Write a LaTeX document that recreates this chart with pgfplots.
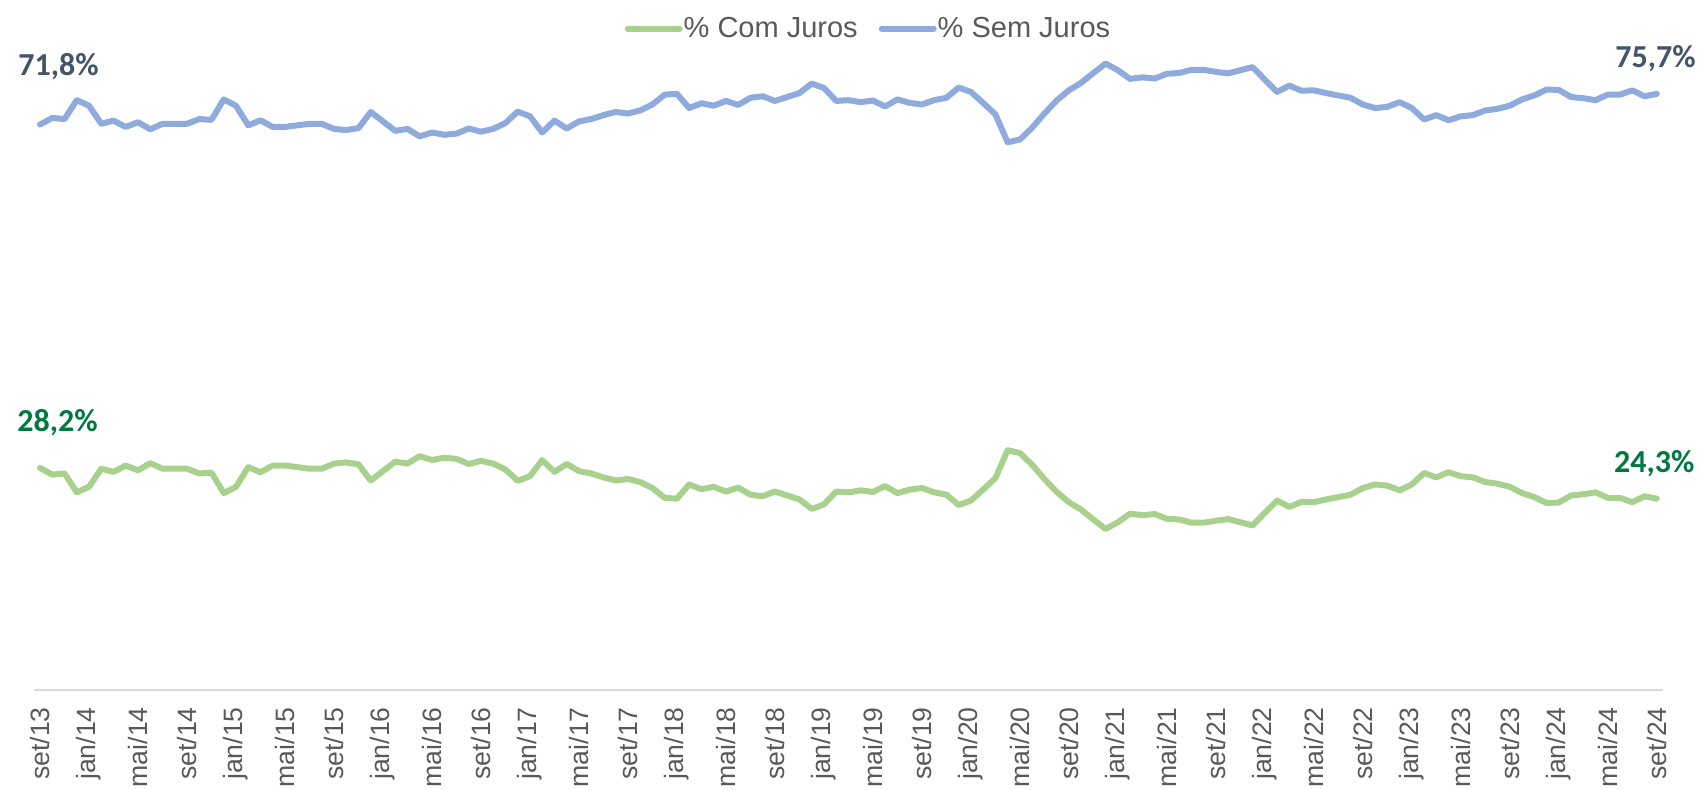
\documentclass[border=0pt]{standalone}
\usepackage{fontspec}
\setmainfont{Liberation Sans}
\newfontfamily\lblfont{Carlito}
\usepackage{pgfplots}
\usepackage{pgfplotstable}
\pgfplotsset{compat=1.18}

\definecolor{comjuros}{HTML}{A9D18E}
\definecolor{semjuros}{HTML}{8FAADC}
\definecolor{lblblue}{HTML}{44546A}
\definecolor{lblgreen}{HTML}{00793F}
\definecolor{ticktxt}{HTML}{595959}

% m = meses desde set/13
\pgfplotstableread{
m sem com
0 71.8 28.2
1 72.65 27.35
2 72.5 27.5
3 74.9 25.1
4 74.2 25.8
5 71.9 28.1
6 72.3 27.7
7 71.5 28.5
8 72.1 27.9
9 71.2 28.8
10 71.9 28.1
11 71.9 28.1
12 71.9 28.1
13 72.5 27.5
14 72.4 27.6
15 75.0 25.0
16 74.2 25.8
17 71.7 28.3
18 72.35 27.65
19 71.5 28.5
20 71.5 28.5
21 71.7 28.3
22 71.9 28.1
23 71.9 28.1
24 71.25 28.75
25 71.1 28.9
26 71.35 28.65
27 73.4 26.6
28 72.2 27.8
29 71.0 29.0
30 71.25 28.75
31 70.3 29.7
32 70.8 29.2
33 70.5 29.5
34 70.65 29.35
35 71.3 28.7
36 70.9 29.1
37 71.25 28.75
38 72.0 28.0
39 73.45 26.55
40 72.85 27.15
41 70.8 29.2
42 72.3 27.7
43 71.3 28.7
44 72.2 27.8
45 72.5 27.5
46 73.0 27.0
47 73.4 26.6
48 73.2 26.8
49 73.6 26.4
50 74.35 25.65
51 75.6 24.4
52 75.7 24.3
53 73.9 26.1
54 74.5 25.5
55 74.2 25.8
56 74.8 25.2
57 74.3 25.7
58 75.2 24.8
59 75.4 24.6
60 74.8 25.2
61 75.3 24.7
62 75.8 24.2
63 77.0 23.0
64 76.45 23.55
65 74.8 25.2
66 74.9 25.1
67 74.65 25.35
68 74.85 25.15
69 74.1 25.9
70 75.0 25.0
71 74.55 25.45
72 74.35 25.65
73 74.9 25.1
74 75.2 24.8
75 76.5 23.5
76 75.95 24.05
77 74.55 25.45
78 73.1 26.9
79 69.55 30.45
80 69.9 30.1
81 71.4 28.6
82 73.2 26.8
83 74.85 25.15
84 76.15 23.85
85 77.1 22.9
86 78.35 21.65
87 79.55 20.45
88 78.7 21.3
89 77.6 22.4
90 77.8 22.2
91 77.65 22.35
92 78.25 21.75
93 78.35 21.65
94 78.75 21.25
95 78.75 21.25
96 78.5 21.5
97 78.3 21.7
98 78.7 21.3
99 79.1 20.9
100 77.5 22.5
101 75.95 24.05
102 76.75 23.25
103 76.1 23.9
104 76.15 23.85
105 75.8 24.2
106 75.5 24.5
107 75.2 24.8
108 74.35 25.65
109 73.9 26.1
110 74.05 25.95
111 74.65 25.35
112 73.9 26.1
113 72.45 27.55
114 73.0 27.0
115 72.35 27.65
116 72.85 27.15
117 73.0 27.0
118 73.6 26.4
119 73.8 26.2
120 74.2 25.8
121 75.0 25.0
122 75.5 24.5
123 76.25 23.75
124 76.2 23.8
125 75.3 24.7
126 75.15 24.85
127 74.9 25.1
128 75.6 24.4
129 75.6 24.4
130 76.15 23.85
131 75.4 24.6
132 75.7 24.3
}\dados

\begin{document}
\begin{tikzpicture}
\useasboundingbox (-16.95pt,-50pt) rectangle (833.55pt,345pt);
\begin{axis}[
  at={(0,0)}, anchor=south west,
  scale only axis,
  width=814.5pt, height=315pt,
  xmin=-0.5, xmax=132.5,
  ymin=0, ymax=80,
  axis x line=bottom,
  axis y line=none,
  x axis line style={draw=black!15, line width=0.8pt, -},
  ytick=\empty,
  xtick={0,4,...,132},
  xticklabels={set/13,jan/14,mai/14,set/14,jan/15,mai/15,set/15,jan/16,mai/16,set/16,jan/17,mai/17,set/17,jan/18,mai/18,set/18,jan/19,mai/19,set/19,jan/20,mai/20,set/20,jan/21,mai/21,set/21,jan/22,mai/22,set/22,jan/23,mai/23,set/23,jan/24,mai/24,set/24},
  major tick length=0pt,
  xticklabel style={rotate=90, anchor=east, inner xsep=8.5pt, inner ysep=0pt,
    font=\fontsize{13.3}{13.3}\selectfont, text=ticktxt},
  clip=false,
  legend columns=2,
  legend style={at={(0.512,1.050)}, anchor=center, draw=none, fill=none,
    font=\fontsize{14.5}{15}\selectfont, text=ticktxt,
    /tikz/every even column/.append style={column sep=10pt},
    nodes={inner xsep=0.5pt}},
  legend image code/.code={\draw[#1, line cap=round] (0pt,0pt) -- (26pt,0pt);},
  every axis plot/.append style={line width=3pt, line join=round, line cap=round},
]
\addplot[comjuros] table[x=m, y=com] {\dados};
\addlegendentry{\% Com Juros}
\addplot[semjuros] table[x=m, y=sem] {\dados};
\addlegendentry{\% Sem Juros}

\node[font=\lblfont\bfseries\fontsize{16}{16}\selectfont, text=lblblue] at (axis cs:1.51,79.1) {71,8\%};
\node[font=\lblfont\bfseries\fontsize{16}{16}\selectfont, text=lblblue] at (axis cs:131.9,80.2) {75,7\%};
\node[font=\lblfont\bfseries\fontsize{16}{16}\selectfont, text=lblgreen] at (axis cs:1.43,33.9) {28,2\%};
\node[font=\lblfont\bfseries\fontsize{16}{16}\selectfont, text=lblgreen] at (axis cs:131.8,28.7) {24,3\%};
\end{axis}
\end{tikzpicture}
\end{document}
